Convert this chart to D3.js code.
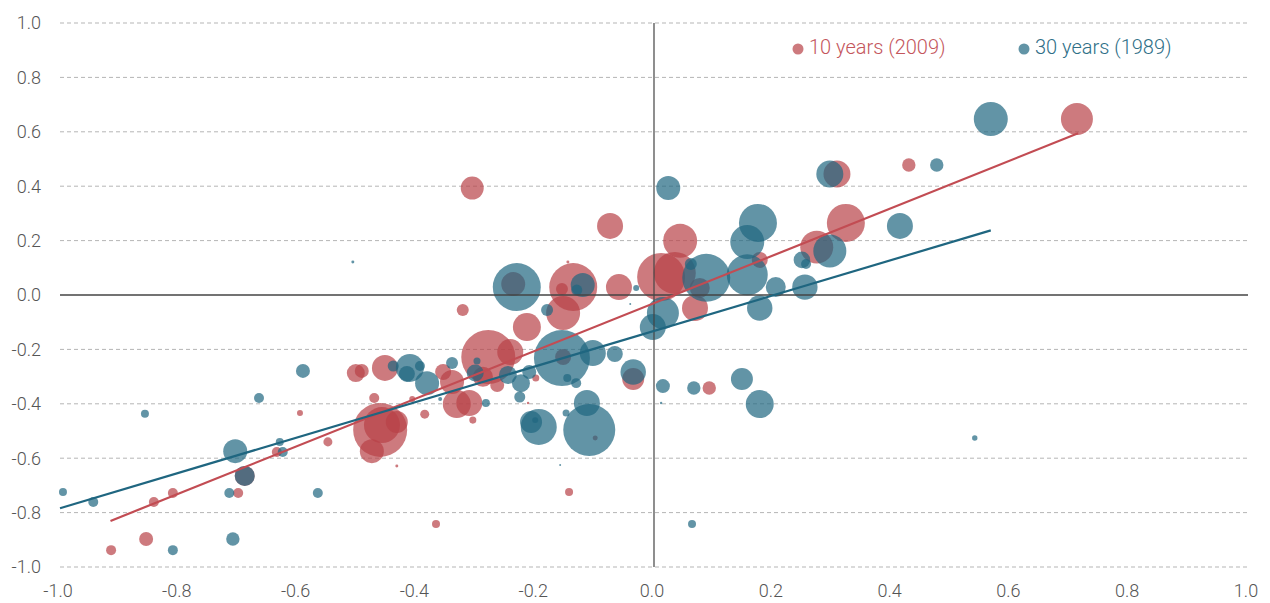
<!DOCTYPE html>
<html><head><meta charset="utf-8">
<script src="https://cdn.jsdelivr.net/npm/d3@7"></script>
<style>
html,body{margin:0;padding:0;background:#fff;}
svg{display:block;}
text{font-family:Roboto,"Noto Sans",sans-serif;}
</style></head>
<body>
<svg id="c" width="1270" height="603"></svg>
<script>
// ---- data ----
const xTicks = [-1.0,-0.8,-0.6,-0.4,-0.2,0.0,0.2,0.4,0.6,0.8,1.0];
const yTicks = [-1.0,-0.8,-0.6,-0.4,-0.2,0.0,0.2,0.4,0.6,0.8,1.0];
const seriesNames = ["10 years (2009)", "30 years (1989)"];
// [x, y, weight]
const tenYears = [
[-0.914,-0.938,1.56],[-0.855,-0.897,3.06],[-0.842,-0.761,1.56],[-0.810,-0.728,1.56],
[-0.700,-0.728,1.56],[-0.689,-0.665,6.25],[-0.635,-0.577,1.56],[-0.596,-0.434,0.56],
[-0.549,-0.540,1.27],[-0.502,-0.287,5.06],[-0.492,-0.279,3.06],[-0.471,-0.379,1.56],
[-0.453,-0.268,10.56],[-0.461,-0.496,45.56],[-0.458,-0.478,20.25],[-0.433,-0.467,7.56],
[-0.475,-0.574,9.0],[-0.433,-0.629,0.14],[-0.367,-0.842,1.0],[-0.407,-0.382,0.56],
[-0.386,-0.438,1.27],[-0.355,-0.283,4.0],[-0.340,-0.320,9.0],[-0.332,-0.401,12.25],
[-0.311,-0.397,10.56],[-0.305,-0.460,0.77],[-0.322,-0.055,2.25],[-0.288,-0.301,6.25],
[-0.279,-0.228,45.56],[-0.242,-0.210,10.56],[-0.264,-0.331,3.06],[-0.214,-0.118,12.25],
[-0.153,-0.066,18.06],[-0.136,0.029,36.0],[-0.155,0.022,2.25],[-0.059,0.029,10.56],
[-0.199,-0.305,0.77],[-0.212,-0.397,0.1],[-0.145,0.121,0.14],[-0.237,0.040,9.0],
[-0.153,-0.228,4.0],[-0.099,-0.526,0.39],[-0.143,-0.724,1.0],[-0.035,-0.309,7.56],
[-0.306,0.393,8.27],[-0.074,0.254,10.56],[0.044,0.199,18.06],[0.012,0.066,36.0],
[0.035,0.081,27.56],[0.077,0.026,6.25],[0.069,-0.048,10.56],[0.093,-0.342,2.8],
[0.178,0.129,4.0],[0.274,0.176,17.0],[0.308,0.445,11.4],[0.323,0.265,22.56],
[0.429,0.478,2.8],[0.712,0.647,16.0]
];
const thirtyYears = [
[-0.995,-0.724,1.0],[-0.944,-0.761,1.56],[-0.857,-0.437,1.0],[-0.810,-0.938,1.56],
[-0.705,-0.574,9.0],[-0.689,-0.665,6.25],[-0.715,-0.728,1.56],[-0.709,-0.897,2.8],
[-0.665,-0.379,1.56],[-0.591,-0.279,3.06],[-0.630,-0.540,1.0],[-0.625,-0.577,1.56],
[-0.566,-0.728,1.56],[-0.507,0.121,0.14],[-0.439,-0.261,1.9],[-0.411,-0.268,12.25],
[-0.416,-0.290,4.0],[-0.394,-0.261,1.56],[-0.382,-0.324,9.0],[-0.360,-0.382,0.25],
[-0.340,-0.250,2.25],[-0.298,-0.243,0.77],[-0.301,-0.287,4.5],[-0.283,-0.397,1.0],
[-0.246,-0.294,5.06],[-0.224,-0.324,5.06],[-0.210,-0.283,3.06],[-0.226,-0.375,1.9],
[-0.194,-0.485,20.25],[-0.207,-0.467,7.56],[-0.200,-0.460,0.56],[-0.148,-0.434,0.77],
[-0.113,-0.397,10.56],[-0.109,-0.496,42.25],[-0.231,0.029,36.0],[-0.120,0.037,9.0],
[-0.130,0.018,1.9],[-0.180,-0.055,2.25],[-0.030,0.026,0.56],[-0.040,-0.033,0.06],
[-0.155,-0.232,49.0],[-0.103,-0.213,10.56],[-0.066,-0.217,4.0],[-0.146,-0.305,1.0],
[-0.131,-0.324,1.56],[-0.035,-0.283,10.1],[0.015,-0.335,3.06],[0.012,-0.397,0.09],
[0.067,-0.342,2.8],[0.148,-0.309,7.56],[0.178,-0.401,12.25],[0.540,-0.526,0.46],
[0.064,-0.842,1.0],[0.024,0.393,9.0],[0.015,-0.066,16.0],[-0.002,-0.118,10.56],
[0.088,0.063,36.0],[0.062,0.114,2.25],[0.157,0.195,18.06],[0.175,0.265,22.56],
[0.157,0.074,26.27],[0.205,0.029,6.25],[0.178,-0.048,10.1],[0.254,0.029,10.1],
[0.249,0.129,4.3],[0.256,0.114,1.56],[0.296,0.162,17.0],[0.296,0.445,11.4],
[0.476,0.478,2.8],[0.414,0.254,10.56],[0.567,0.647,18.06],[-0.158,-0.625,0.06]
];
// regression fits: [xStart, xEnd, slope, intercept]
const tenFit = [-0.915, 0.714, 0.875, -0.030];
const thirtyFit = [-1.0, 0.567, 0.652, -0.132];

// ---- chart ----
const svg = d3.select("#c");
const x = d3.scaleLinear().domain([-1,1]).range([60,1248]);
const y = d3.scaleLinear().domain([-1,1]).range([567,23]);
const r = d3.scaleSqrt().domain([0,100]).range([0,40]);
const redFill = "#b84147", tealFill = "#1f6680";
const redLine = "#c24c53", tealLine = "#1f6680";

// grid
svg.append("g").selectAll("line").data(yTicks.filter(d=>d!==0)).join("line")
  .attr("x1",x(-1)).attr("x2",x(1)).attr("y1",d=>y(d)).attr("y2",d=>y(d))
  .attr("stroke","#b5b5b5").attr("stroke-width",1).attr("stroke-dasharray","4,3");

// y labels
svg.append("g").selectAll("text").data(yTicks).join("text")
  .attr("x",41).attr("y",d=>y(d)).attr("dy","0.35em").attr("text-anchor","end")
  .attr("font-size",18).attr("font-weight",300).attr("fill","#555")
  .text(d=>d3.format(".1f")(d).replace("−","-"));
// x labels
svg.append("g").selectAll("text").data(xTicks).join("text")
  .attr("x",d=>x(d)-2).attr("y",597).attr("text-anchor","middle")
  .attr("font-size",18).attr("font-weight",300).attr("fill","#555")
  .text(d=>d3.format(".1f")(d).replace("−","-"));

// bubbles
svg.append("g").selectAll("circle").data(tenYears).join("circle")
  .attr("cx",d=>x(d[0])).attr("cy",d=>y(d[1])).attr("r",d=>r(d[2]))
  .attr("fill",redFill).attr("fill-opacity",0.7);
svg.append("g").selectAll("circle").data(thirtyYears).join("circle")
  .attr("cx",d=>x(d[0])).attr("cy",d=>y(d[1])).attr("r",d=>r(d[2]))
  .attr("fill",tealFill).attr("fill-opacity",0.7);

// axes lines
svg.append("line").attr("x1",x(-1)).attr("x2",x(1)).attr("y1",y(0)).attr("y2",y(0))
  .attr("stroke","#444").attr("stroke-width",1.3);
svg.append("line").attr("x1",x(0)).attr("x2",x(0)).attr("y1",y(1)).attr("y2",y(-1))
  .attr("stroke","#444").attr("stroke-width",1.2);

// regression lines
function fitLine(f,color){
  const pts = [f[0],f[1]].map(v=>[x(v), y(f[2]*v+f[3])]);
  svg.append("path").attr("d",d3.line()(pts)).attr("stroke",color)
    .attr("stroke-width",2.2).attr("fill","none");
}
fitLine(tenFit, redLine);
fitLine(thirtyFit, tealLine);

// legend
const legend = [
  {name:seriesNames[0], fill:redFill, text:"#c4565c", lx:798},
  {name:seriesNames[1], fill:tealFill, text:"#2f6f87", lx:1024}
];
const lg = svg.append("g").selectAll("g").data(legend).join("g");
lg.append("circle").attr("cx",d=>d.lx).attr("cy",49).attr("r",5.5)
  .attr("fill",d=>d.fill).attr("fill-opacity",0.7);
lg.append("text").attr("x",d=>d.lx+11).attr("y",53.5).attr("font-size",20)
  .attr("font-weight",300).attr("fill",d=>d.text).text(d=>d.name);
</script>
</body></html>
